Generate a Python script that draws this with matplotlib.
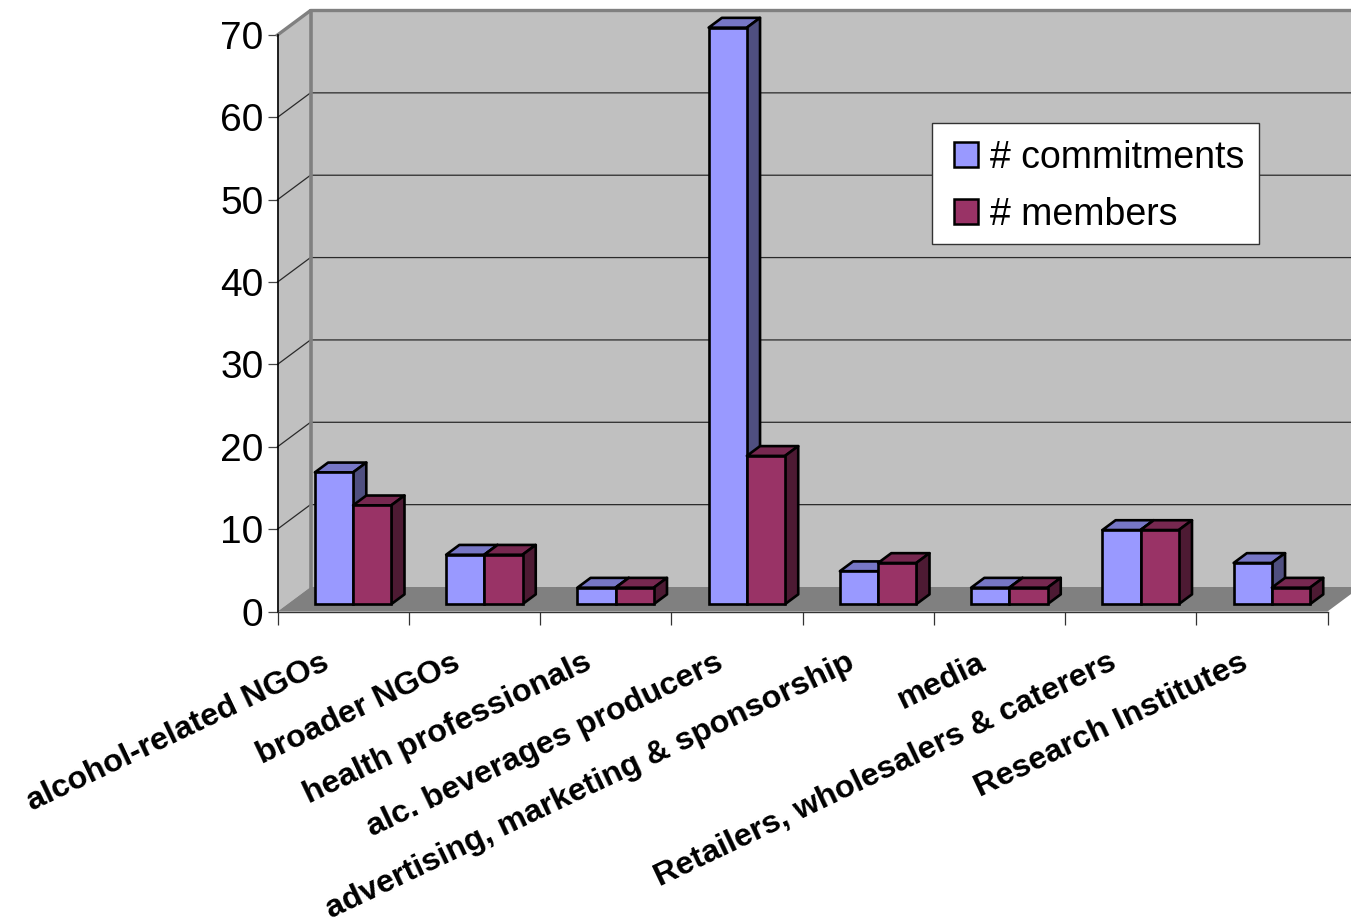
import matplotlib
matplotlib.use("Agg")
import matplotlib.pyplot as plt
import numpy as np
from matplotlib.patches import Patch, Polygon, Rectangle
from matplotlib.transforms import ScaledTranslation

plt.rcParams['font.family'] = ['Liberation Sans', 'DejaVu Sans']

categories = ['alcohol-related NGOs', 'broader NGOs', 'health professionals',
              'alc. beverages producers', 'advertising, marketing & sponsorship',
              'media', 'Retailers, wholesalers & caterers', 'Research Institutes']
commitments = [16, 6, 2, 70, 4, 2, 9, 5]
members = [12, 6, 2, 18, 5, 2, 9, 2]
yticks = [0, 10, 20, 30, 40, 50, 60, 70]

W, H = 1351, 924
left, right, top, bottom = 277.5, 1327.5, 35.0, 611.5

fig = plt.figure(figsize=(W / 100, H / 100), dpi=100, facecolor='white')
ax = fig.add_axes([left / W, 1 - bottom / H, (right - left) / W, (bottom - top) / H])
ax.set_xlim(0, len(categories))
ax.set_ylim(0, 70)
ax.patch.set_visible(False)

# fake 3d depth, in data units (33 px across, 24.5 px up)
DX = 33 / ((right - left) / len(categories))
DY = 24.5 / ((bottom - top) / 70)
n = len(categories)

# walls and floor
ax.add_patch(Polygon([(DX, DY), (n + DX, DY), (n + DX, 70 + DY), (DX, 70 + DY)],
                     fc='#C0C0C0', ec='none', clip_on=False, zorder=1))
ax.add_patch(Polygon([(0, 0), (DX, DY), (DX, 70 + DY), (0, 70)],
                     fc='#C0C0C0', ec='none', clip_on=False, zorder=1))
ax.add_patch(Polygon([(0, 0), (n, 0), (n + DX, DY), (DX, DY)],
                     fc='#808080', ec='none', clip_on=False, zorder=1))
for v in yticks[1:-1]:
    ax.plot([0, DX, n + DX], [v, v + DY, v + DY], color='#2a2a2a', lw=0.9,
            clip_on=False, zorder=2)
ax.plot([0, DX, n + DX], [70, 70 + DY, 70 + DY], color='#808080', lw=2.4,
        clip_on=False, zorder=2)
ax.plot([DX, DX], [DY, 70 + DY], color='#808080', lw=2.6, clip_on=False, zorder=2)


def bars_3d(vals, offset, face, top_c, side_c, z):
    bw = 0.291
    x0 = np.arange(n) + 0.3 * DX + 0.2095 + offset * bw
    y0 = 0.3 * DY
    dx, dy = 0.4 * DX, 0.4 * DY
    for i, v in enumerate(vals):
        zi = z + i * 3
        ax.add_patch(Polygon([(x0[i], y0 + v), (x0[i] + bw, y0 + v), (x0[i] + bw + dx, y0 + v + dy),
                              (x0[i] + dx, y0 + v + dy)], fc=top_c, ec='black', lw=1.9,
                             joinstyle='round', clip_on=False, zorder=zi))
        ax.add_patch(Polygon([(x0[i] + bw, y0), (x0[i] + bw + dx, y0 + dy), (x0[i] + bw + dx, y0 + v + dy),
                              (x0[i] + bw, y0 + v)], fc=side_c, ec='black', lw=1.9,
                             joinstyle='round', clip_on=False, zorder=zi))
        ax.bar(x0[i], v, bw, bottom=y0, align='edge', color=face, edgecolor='black', lw=1.9,
               clip_on=False, zorder=zi + 1)


bars_3d(commitments, 0, '#9999FF', '#7777C6', '#4F4F80', 10)
bars_3d(members, 1, '#993366', '#772850', '#4D1A33', 11)

for s in ['top', 'right']:
    ax.spines[s].set_visible(False)
ax.spines['left'].set_color('black')
ax.spines['bottom'].set_color('#333333')
ax.spines['left'].set_linewidth(1.2)
ax.spines['bottom'].set_linewidth(1.0)
ax.spines['left'].set_zorder(3)
ax.spines['bottom'].set_zorder(3)

ax.set_yticks(yticks)
ax.tick_params(axis='y', length=7, width=0.9, color='#444444', pad=3, labelsize=28)
ax.set_xticks(np.arange(n + 1))
ax.set_xticklabels([])
ax.tick_params(axis='x', which='major', length=9, width=0.9, color='#333333')
ax.set_xticks(np.arange(n) + 0.5, minor=True)
ax.set_xticklabels(categories, minor=True, rotation=25.5, ha='right', va='top',
                   rotation_mode='anchor', fontsize=23.3, fontweight='bold')
ax.tick_params(axis='x', which='minor', length=0, pad=26)
shift = ScaledTranslation(-22 / 100, 0, fig.dpi_scale_trans)
for lab in ax.get_xticklabels(minor=True):
    lab.set_transform(lab.get_transform() + shift)

# legend box drawn apart, the padding differs across and down
ax.add_patch(Rectangle((932 / W, 1 - 243.5 / H), 327 / W, 120 / H, transform=fig.transFigure,
                       fc='white', ec='#333333', lw=1.0, clip_on=False, zorder=59))
handles = [Patch(fc='#9999FF', ec='black', lw=1.8, label='# commitments'),
           Patch(fc='#993366', ec='black', lw=1.8, label='# members')]
leg = ax.legend(handles=handles, loc='upper left', fontsize=27, frameon=False,
                bbox_to_anchor=(937 / W, 1 - 123.5 / H), bbox_transform=fig.transFigure,
                borderaxespad=0, borderpad=0.44, handlelength=0.64, handleheight=0.64,
                handletextpad=0.32, labelspacing=0.553)
leg.set_zorder(60)

fig.savefig('out.png', dpi=100)
